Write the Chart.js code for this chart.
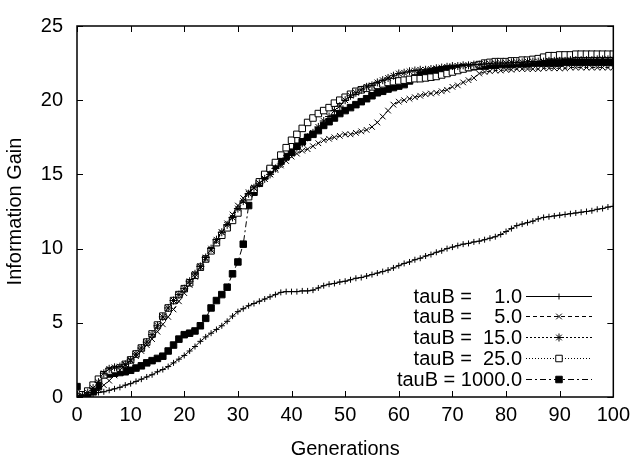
<!DOCTYPE html>
<html>
<head>
<meta charset="utf-8">
<script src="https://cdn.jsdelivr.net/npm/chart.js@4.4.0/dist/chart.umd.min.js"></script>
<style>
  html, body { margin: 0; padding: 0; background: #fff; }
  canvas { display: block; }
</style>
</head>
<body>
<canvas id="gain" width="636" height="459"></canvas>
<script>
// generations on the x axis
const generations = Array.from({ length: 101 }, (_, i) => i);

const tauLabels = ['tauB =    1.0', 'tauB =    5.0', 'tauB =  15.0', 'tauB =  25.0', 'tauB = 1000.0'];

const tau1 = [0, 0.05, 0.1, 0.2, 0.3, 0.35, 0.45, 0.55, 0.65, 0.8,
  0.9, 1.05, 1.2, 1.35, 1.5, 1.7, 1.85, 2.05, 2.3, 2.55,
  2.8, 3.1, 3.4, 3.75, 4.05, 4.3, 4.55, 4.8, 5.1, 5.45,
  5.75, 5.95, 6.15, 6.3, 6.45, 6.6, 6.75, 6.9, 7.05, 7.1,
  7.1, 7.1, 7.15, 7.15, 7.2, 7.35, 7.5, 7.6, 7.65, 7.75,
  7.8, 7.9, 8.0, 8.05, 8.15, 8.25, 8.35, 8.45, 8.55, 8.7,
  8.85, 9.0, 9.1, 9.25, 9.35, 9.5, 9.6, 9.75, 9.85, 10.0,
  10.1, 10.2, 10.3, 10.35, 10.45, 10.5, 10.6, 10.7, 10.8, 10.95,
  11.15, 11.35, 11.55, 11.65, 11.75, 11.85, 12.0, 12.1, 12.15, 12.2,
  12.25, 12.3, 12.35, 12.4, 12.45, 12.5, 12.55, 12.65, 12.7, 12.8,
  12.85];

const tau5 = [0, 0.05, 0.15, 0.3, 0.5, 0.8, 1.1, 1.45, 1.8, 2.15,
  2.45, 2.75, 3.1, 3.5, 3.9, 4.4, 4.9, 5.4, 5.9, 6.45,
  7.0, 7.55, 8.1, 8.7, 9.3, 9.9, 10.5, 11.1, 11.7, 12.3,
  12.9, 13.4, 13.8, 14.1, 14.4, 14.7, 15.0, 15.3, 15.6, 15.9,
  16.2, 16.4, 16.6, 16.7, 16.9, 17.1, 17.3, 17.4, 17.5, 17.6,
  17.7, 17.7, 17.8, 17.9, 18.0, 18.2, 18.5, 18.9, 19.3, 19.7,
  19.9, 20.0, 20.1, 20.2, 20.3, 20.4, 20.45, 20.5, 20.6, 20.7,
  20.9, 21.0, 21.2, 21.35, 21.5, 21.8, 21.9, 21.95, 22.0, 22.0,
  22.05, 22.05, 22.1, 22.1, 22.1, 22.1, 22.1, 22.15, 22.15, 22.15,
  22.15, 22.15, 22.2, 22.2, 22.2, 22.2, 22.2, 22.2, 22.2, 22.2,
  22.2];

const tau15 = [0, 0.1, 0.3, 0.6, 1.0, 1.6, 1.9, 2.0, 2.05, 2.2,
  2.5, 2.9, 3.3, 3.7, 4.2, 4.8, 5.4, 6.0, 6.5, 6.9,
  7.3, 7.8, 8.3, 8.8, 9.4, 10.0, 10.6, 11.1, 11.6, 12.1,
  12.7, 13.2, 13.7, 14.1, 14.4, 14.7, 15.0, 15.4, 15.7, 16.1,
  16.4, 16.8, 17.1, 17.5, 17.8, 18.2, 18.6, 18.9, 19.3, 19.6,
  20.0, 20.3, 20.5, 20.7, 20.9, 21.0, 21.2, 21.35, 21.5, 21.65,
  21.8, 21.85, 21.95, 22.0, 22.05, 22.05, 22.1, 22.15, 22.2, 22.25,
  22.3, 22.3, 22.35, 22.35, 22.4, 22.4, 22.45, 22.45, 22.5, 22.5,
  22.5, 22.55, 22.55, 22.55, 22.6, 22.6, 22.6, 22.6, 22.65, 22.65,
  22.65, 22.65, 22.7, 22.7, 22.7, 22.7, 22.7, 22.75, 22.75, 22.75,
  22.75];

const tau25 = [0, 0.15, 0.4, 0.8, 1.2, 1.5, 1.75, 1.85, 1.95, 2.2,
  2.5, 2.9, 3.3, 3.7, 4.25, 4.85, 5.45, 6.0, 6.5, 6.9,
  7.3, 7.7, 8.2, 8.75, 9.3, 9.85, 10.4, 10.9, 11.4, 11.9,
  12.4, 12.9, 13.5, 14.0, 14.5, 15.0, 15.4, 15.8, 16.3, 16.8,
  17.3, 17.7, 18.1, 18.5, 18.8, 19.1, 19.3, 19.5, 19.8, 20.0,
  20.2, 20.4, 20.6, 20.7, 20.8, 20.9, 21.0, 21.1, 21.2, 21.25,
  21.3, 21.35, 21.4, 21.45, 21.45, 21.5, 21.55, 21.6, 21.7, 21.8,
  21.9, 22.0, 22.1, 22.2, 22.3, 22.4, 22.5, 22.55, 22.6, 22.6,
  22.6, 22.65, 22.65, 22.7, 22.7, 22.75, 22.8, 22.9, 23.0, 23.0,
  23.05, 23.05, 23.05, 23.1, 23.1, 23.1, 23.1, 23.1, 23.1, 23.1,
  23.1];

const tau1000 = [0.7, 0.0, 0.15, 0.35, 0.7, 1.5, 1.55, 1.6, 1.65, 1.7,
  1.8, 1.95, 2.1, 2.3, 2.45, 2.6, 2.75, 3.1, 3.5, 3.9,
  4.2, 4.3, 4.45, 4.8, 5.3, 6.0, 6.5, 6.9, 7.4, 8.3,
  9.1, 10.3, 12.9, 13.8, 14.4, 14.9, 15.3, 15.6, 15.9, 16.2,
  16.5, 16.9, 17.2, 17.5, 17.7, 17.95, 18.3, 18.55, 18.8, 19.1,
  19.3, 19.5, 19.7, 19.9, 20.1, 20.3, 20.5, 20.6, 20.75, 20.85,
  20.95, 21.05, 21.3, 21.5, 21.7, 21.8, 21.9, 22.0, 22.05, 22.1,
  22.1, 22.15, 22.2, 22.2, 22.25, 22.3, 22.3, 22.35, 22.35, 22.4,
  22.4, 22.4, 22.45, 22.45, 22.45, 22.5, 22.5, 22.5, 22.5, 22.5,
  22.5, 22.55, 22.55, 22.55, 22.55, 22.55, 22.55, 22.55, 22.55, 22.55,
  22.55];

const xTicks = [0, 10, 20, 30, 40, 50, 60, 70, 80, 90, 100];
const yTicks = [0, 5, 10, 15, 20, 25];

const pts = vals => generations.map((g, i) => ({ x: g, y: vals[i] }));

function series(label, vals, style, radius, dash, fill) {
  return {
    label: label,
    data: pts(vals),
    borderColor: '#000',
    borderWidth: 1,
    borderDash: dash,
    pointStyle: style,
    pointRadius: radius,
    pointBorderWidth: 1,
    pointBorderColor: '#000',
    pointBackgroundColor: fill,
    tension: 0,
    fill: false
  };
}

Chart.defaults.font.family = "'Liberation Sans', Arial, Helvetica, sans-serif";
Chart.defaults.color = '#000';

// gnuplot style frame: box with inward ticks on all four sides, plus key
const gnuFrame = {
  id: 'gnuFrame',
  afterDatasetsDraw(chart) {
    const { ctx, chartArea: a, scales } = chart;
    ctx.save();
    ctx.strokeStyle = '#000';
    ctx.lineWidth = 1.5;
    ctx.setLineDash([]);
    ctx.strokeRect(a.left, a.top, a.right - a.left, a.bottom - a.top);
    ctx.lineWidth = 1;
    const tl = 6;
    ctx.beginPath();
    xTicks.forEach(v => {
      const px = Math.round(scales.x.getPixelForValue(v)) + 0.5;
      ctx.moveTo(px, a.bottom); ctx.lineTo(px, a.bottom - tl);
      ctx.moveTo(px, a.top); ctx.lineTo(px, a.top + tl);
    });
    yTicks.forEach(v => {
      const py = Math.round(scales.y.getPixelForValue(v)) + 0.5;
      ctx.moveTo(a.left, py); ctx.lineTo(a.left + tl, py);
      ctx.moveTo(a.right, py); ctx.lineTo(a.right - tl, py);
    });
    ctx.stroke();

    // key, lower right
    const rowY = [296, 316, 337, 358, 379];
    ctx.font = "20px 'Liberation Sans', Arial, sans-serif";
    ctx.textAlign = 'right';
    ctx.textBaseline = 'middle';
    ctx.fillStyle = '#000';
    chart.data.datasets.forEach((ds, i) => {
      const y = rowY[i];
      ctx.fillText(ds.label, 522, y + 1);
      ctx.setLineDash(ds.borderDash || []);
      ctx.beginPath();
      ctx.moveTo(526, y + 0.5);
      ctx.lineTo(592, y + 0.5);
      ctx.stroke();
      ctx.setLineDash([]);
      ctx.fillStyle = ds.pointBackgroundColor;
      Chart.helpers.drawPoint(ctx, {
        pointStyle: ds.pointStyle,
        radius: ds.pointRadius,
        borderWidth: 1,
        rotation: 0
      }, 559, y + 0.5);
      ctx.fillStyle = '#000';
    });
    ctx.restore();
  }
};

new Chart(document.getElementById('gain'), {
  type: 'line',
  data: {
    datasets: [
      series(tauLabels[0], tau1, 'cross', 3, [], '#000'),
      series(tauLabels[1], tau5, 'crossRot', 4, [4, 3], '#000'),
      series(tauLabels[2], tau15, 'star', 4, [2, 2], '#000'),
      series(tauLabels[3], tau25, 'rect', 4.6, [1, 2], '#fff'),
      series(tauLabels[4], tau1000, 'rect', 4.6, [6, 3, 2, 3], '#000')
    ]
  },
  options: {
    responsive: false,
    animation: false,
    layout: { padding: { left: 0, top: 16, right: 19, bottom: 0 } },
    plugins: {
      legend: { display: false },
      tooltip: { enabled: false }
    },
    scales: {
      x: {
        type: 'linear',
        min: 0,
        max: 100,
        afterFit: s => { s.height = 62; },
        afterBuildTicks: s => { s.ticks = xTicks.map(v => ({ value: v })); },
        ticks: { padding: 6, font: { size: 20 }, maxRotation: 0 },
        grid: { display: false, drawTicks: false },
        border: { display: false },
        title: {
          display: true,
          text: 'Generations',
          font: { size: 20, lineHeight: 1.0 },
          padding: { top: 0, bottom: 0 }
        }
      },
      y: {
        type: 'linear',
        min: 0,
        max: 25,
        afterFit: s => { s.width = 77; },
        afterBuildTicks: s => { s.ticks = yTicks.map(v => ({ value: v })); },
        ticks: { padding: 14, font: { size: 20 } },
        grid: { display: false, drawTicks: false },
        border: { display: false },
        title: {
          display: true,
          text: 'Information Gain',
          font: { size: 20 },
          padding: { top: 3, bottom: 0 }
        }
      }
    }
  },
  plugins: [gnuFrame]
});
</script>
</body>
</html>
